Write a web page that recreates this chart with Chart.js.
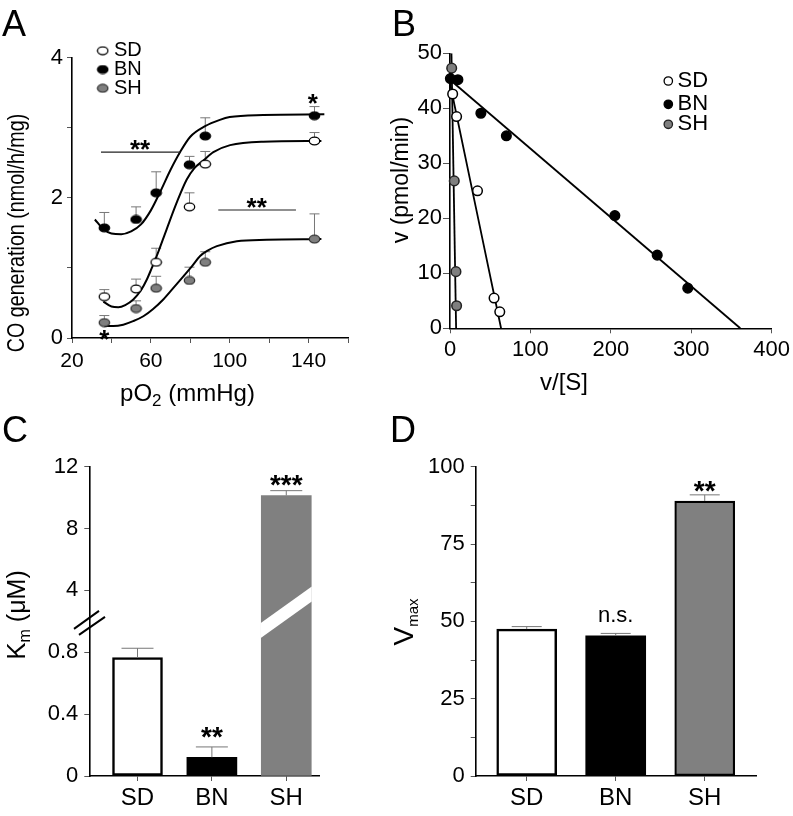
<!DOCTYPE html>
<html>
<head>
<meta charset="utf-8">
<title>CO generation and HO kinetics</title>
<script src="https://cdn.jsdelivr.net/npm/chart.js@4.4.1/dist/chart.umd.min.js"></script>
<style>
  html, body { margin: 0; padding: 0; background: #fff; }
  #fig { position: relative; width: 793px; height: 816px; overflow: hidden; font-family: 'Liberation Sans', Arial, sans-serif; }
  #fig canvas { position: absolute; left: 0; top: 0; }
  .tag { position: absolute; font-size: 36px; line-height: 36px; color: #000; }
</style>
</head>
<body>
<div id="fig">
  <canvas id="chartA" width="793" height="816"></canvas>
  <canvas id="chartB" width="793" height="816"></canvas>
  <canvas id="chartC" width="793" height="816"></canvas>
  <canvas id="chartD" width="793" height="816"></canvas>
  <div class="tag" style="left:2px;top:6px">A</div>
  <div class="tag" style="left:392px;top:6px">B</div>
  <div class="tag" style="left:2px;top:412px">C</div>
  <div class="tag" style="left:390px;top:412px">D</div>
</div>
<script>
const FONT = "'Liberation Sans', Arial, sans-serif";
Chart.defaults.font.family = FONT;
Chart.defaults.color = '#000';
Chart.defaults.animation = false;
Chart.defaults.plugins.legend.display = false;
Chart.defaults.plugins.tooltip.enabled = false;

const strains = ['SD', 'BN', 'SH'];

// A: CO generation vs pO2
const po2 = [36.4, 52.5, 62.7, 79.6, 87.6, 143];
const coSD = [0.59, 0.70, 1.08, 1.87, 2.48, 2.81];
const coBN = [1.57, 1.69, 2.07, 2.47, 2.88, 3.17];
const coSH = [0.22, 0.42, 0.71, 0.82, 1.08, 1.41];
const errSD = [0.10, 0.14, 0.20, 0.20, 0.18, 0.12];
const errBN = [0.22, 0.18, 0.30, 0.12, 0.26, 0.13];
const errSH = [0.10, 0.11, 0.17, 0.19, 0.15, 0.36];
// fitted curves
const fitSDx = [35.9, 40, 43.5, 47, 51.1, 55, 57.9, 60.5, 63, 68, 73.1, 78.2, 82, 86.6, 91.7, 100.2, 117, 146.5];
const fitSDy = [0.52, 0.45, 0.44, 0.47, 0.55, 0.68, 0.83, 1.0, 1.17, 1.55, 1.93, 2.26, 2.42, 2.53, 2.65, 2.75, 2.80, 2.81];
const fitBNx = [31.6, 36, 40, 45, 50, 55, 60, 65, 70, 75, 80, 87.5, 95, 100, 117, 148];
const fitBNy = [1.69, 1.55, 1.49, 1.48, 1.52, 1.62, 1.82, 2.10, 2.40, 2.66, 2.87, 3.02, 3.11, 3.15, 3.18, 3.19];
const fitSHx = [36.4, 41, 46, 51, 56.2, 61, 66.3, 71, 76.5, 81, 85, 89, 93.5, 103.6, 118.8, 146.5];
const fitSHy = [0.17, 0.17, 0.19, 0.24, 0.31, 0.41, 0.55, 0.70, 0.88, 1.03, 1.17, 1.25, 1.31, 1.38, 1.40, 1.41];
// significance bars [x1, x2, y] and marks [x, y, text]
const sigA = [[34.7, 74.8, 2.65], [94.2, 133.6, 1.825]];
const marksA = [[54.5, 2.79, '**'], [113.7, 1.965, '**'], [142.1, 3.445, '*'], [36.4, 0.076, '*']];

// B: Eadie-Hofstee plot
const vsSD = [3.3, 8.2, 34.2, 54.8, 61.9];
const vSD = [42.6, 38.5, 25.0, 5.5, 3.0];
const vsBN = [0.5, 9.8, 38.4, 70.1, 205, 257.7, 295.7];
const vBN = [45.4, 45.2, 39.1, 35.0, 20.5, 13.3, 7.3];
const vsSH = [2.1, 5.3, 7.4, 8.2];
const vSH = [47.3, 26.8, 10.3, 4.1];
const lineSDx = [0, 63.5], lineSDy = [44.5, 0];
const lineBNx = [0, 361], lineBNy = [45.2, 0];
const lineSHx = [1.8, 7.6], lineSHy = [50, 0];

// C: Km (broken axis)
const kmVal = [0.766, 0.121, 10.14];
const kmErr = [0.06, 0.067, 0.31];
const kmTicks = [0, 0.4, 0.8, 4, 8, 12];
const kmMarks = [[1, 0.298, '**'], [2, 11.29, '***']];

// D: Vmax
const vmaxVal = [47.5, 45.3, 88.9];
const vmaxErr = [0.8, 0.8, 2.0];
const vmaxMarks = [[1, 51.7, 'n.s.'], [2, 94.7, '**']];

// broken axis: 0-0.8 on the first two steps, 4-12 above the break
function kmPos(v) { return v < 2 ? v / 0.4 : 2 + v / 4; }

function ellipseMarker(fill, stroke) {
  const c = document.createElement('canvas');
  c.width = 13; c.height = 10;
  const g = c.getContext('2d');
  g.beginPath();
  g.ellipse(6.5, 5, 5.2, 3.8, 0, 0, Math.PI * 2);
  g.fillStyle = fill; g.fill();
  g.lineWidth = 1.3; g.strokeStyle = stroke; g.stroke();
  return c;
}
const mkSD = ellipseMarker('#fff', '#000');
const mkBN = ellipseMarker('#000', '#000');
const mkSH = ellipseMarker('#7f7f7f', '#333');

function axis(min, max, step, size, tickLen, pad, label) {
  return {
    type: 'linear', min: min, max: max, offset: false,
    ticks: { stepSize: step, font: { size: size }, padding: pad, color: '#000', autoSkip: false, maxRotation: 0, callback: label },
    grid: { drawOnChartArea: false, drawTicks: true, tickLength: tickLen, color: '#555', tickWidth: 1, offset: false },
    border: { display: true, color: '#000', width: 1.6 }
  };
}

function rich(ctx, parts, x, y, rot, sx) {
  ctx.save();
  ctx.translate(x, y);
  ctx.rotate(rot || 0);
  ctx.scale(sx || 1, 1);
  ctx.fillStyle = '#000';
  ctx.textAlign = 'left';
  ctx.textBaseline = 'alphabetic';
  let w = 0;
  parts.forEach(p => { ctx.font = p[1] + 'px ' + FONT; w += ctx.measureText(p[0]).width; });
  let cx = -w / 2;
  parts.forEach(p => {
    ctx.font = p[1] + 'px ' + FONT;
    ctx.fillText(p[0], cx, p[2] || 0);
    cx += ctx.measureText(p[0]).width;
  });
  ctx.restore();
}

function mark(ctx, txt, px, py, size) {
  ctx.save();
  ctx.fillStyle = '#000';
  const star = txt.indexOf('*') >= 0;
  ctx.font = (star ? 'bold ' : '') + size + 'px ' + FONT;
  ctx.textAlign = 'center';
  ctx.textBaseline = 'alphabetic';
  ctx.fillText(txt, px, py + (star ? 0.59 : 0.26) * size);
  ctx.restore();
}

function errBar(ctx, px, y0, y1, capW) {
  ctx.save();
  ctx.strokeStyle = '#777';
  ctx.lineWidth = 1;
  ctx.beginPath();
  ctx.moveTo(px, y0); ctx.lineTo(px, y1);
  ctx.moveTo(px - capW / 2, y1); ctx.lineTo(px + capW / 2, y1);
  ctx.stroke();
  ctx.restore();
}

function pts(xs, ys, style) {
  return { data: xs.map((x, i) => ({ x: x, y: ys[i] })), pointStyle: style, pointRadius: 5, showLine: false, clip: false };
}
function curve(xs, ys, w) {
  return { data: xs.map((x, i) => ({ x: x, y: ys[i] })), showLine: true, pointRadius: 0, borderColor: '#000', borderWidth: w, cubicInterpolationMode: 'monotone' };
}
function dots(xs, ys, fill, stroke) {
  return { data: xs.map((x, i) => ({ x: x, y: ys[i] })), pointRadius: 4.8, pointBackgroundColor: fill, pointBorderColor: stroke, pointBorderWidth: 1.5, showLine: false, clip: false };
}

// ---------- A ----------
const panelA = {
  id: 'panelA',
  beforeDatasetsDraw(chart) {
    const { ctx, scales: { x, y } } = chart;
    [[coSD, errSD], [coBN, errBN], [coSH, errSH]].forEach(([v, e]) => {
      v.forEach((val, i) => errBar(ctx, x.getPixelForValue(po2[i]), y.getPixelForValue(val), y.getPixelForValue(val + e[i]), 10));
    });
  },
  afterDraw(chart) {
    const { ctx, scales: { x, y } } = chart;
    ctx.save();
    ctx.strokeStyle = '#222';
    ctx.lineWidth = 1.2;
    sigA.forEach(s => {
      ctx.beginPath();
      ctx.moveTo(x.getPixelForValue(s[0]), y.getPixelForValue(s[2]));
      ctx.lineTo(x.getPixelForValue(s[1]), y.getPixelForValue(s[2]));
      ctx.stroke();
    });
    ctx.restore();
    marksA.forEach(m => mark(ctx, m[2], x.getPixelForValue(m[0]), y.getPixelForValue(m[1]), 26));
    // legend
    [mkSD, mkBN, mkSH].forEach((mk, i) => {
      const ly = 50.7 + i * 18.8;
      ctx.drawImage(mk, 102.7 - mk.width / 2, ly - mk.height / 2);
      ctx.font = '20px ' + FONT;
      ctx.fillStyle = '#000';
      ctx.textBaseline = 'middle';
      ctx.textAlign = 'left';
      ctx.fillText(strains[i], 114, ly);
    });
    rich(ctx, [['CO generation (nmol/h/mg)', 24]], 24, 233, -Math.PI / 2, 0.82);
    rich(ctx, [['pO', 24], ['2', 17, 5], [' (mmHg)', 24]], 187.5, 400.5);
  }
};

new Chart(document.getElementById('chartA'), {
  type: 'scatter',
  data: {
    datasets: [
      pts(po2, coSD, mkSD), pts(po2, coBN, mkBN), pts(po2, coSH, mkSH),
      curve(fitSDx, fitSDy, 2), curve(fitBNx, fitBNy, 2), curve(fitSHx, fitSHy, 2)
    ]
  },
  options: {
    responsive: false,
    layout: { padding: { left: 12, top: 57.5, right: 445, bottom: 428 } },
    scales: {
      x: Object.assign(axis(20, 160, 20, 21, 5, 6, v => ((v - 20) % 40 === 0 ? v : '')), { afterFit: s => { s.height = 50; } }),
      y: Object.assign(axis(0, 4, 1, 22, 5, 4, v => (v % 2 === 0 ? v : '')), { afterFit: s => { s.width = 60; } })
    }
  },
  plugins: [panelA]
});

// ---------- B ----------
const panelB = {
  id: 'panelB',
  afterDraw(chart) {
    const { ctx } = chart;
    const looks = [['#fff', '#000'], ['#000', '#000'], ['#7f7f7f', '#222']];
    looks.forEach((c, i) => {
      const ly = [81, 104.3, 124.3][i];
      ctx.save();
      ctx.beginPath();
      ctx.arc(668.3, ly, 4.2, 0, Math.PI * 2);
      ctx.fillStyle = c[0]; ctx.fill();
      ctx.lineWidth = 1.3; ctx.strokeStyle = c[1]; ctx.stroke();
      ctx.font = '22px ' + FONT;
      ctx.fillStyle = '#000';
      ctx.textBaseline = 'middle';
      ctx.textAlign = 'left';
      ctx.fillText(strains[i], 677.5, ly);
      ctx.restore();
    });
    rich(ctx, [['v (pmol/min)', 23]], 408, 180, -Math.PI / 2);
    rich(ctx, [['v/[S]', 24]], 564, 390);
  }
};

new Chart(document.getElementById('chartB'), {
  type: 'scatter',
  data: {
    datasets: [
      dots(vsSD, vSD, '#fff', '#000'), dots(vsBN, vBN, '#000', '#000'), dots(vsSH, vSH, '#7f7f7f', '#222'),
      curve(lineSDx, lineSDy, 1.8), curve(lineBNx, lineBNy, 1.8), curve(lineSHx, lineSHy, 1.8)
    ]
  },
  options: {
    responsive: false,
    layout: { padding: { left: 390, top: 53.3, right: 19.7, bottom: 437.7 } },
    scales: {
      x: Object.assign(axis(0, 400, 100, 22, 5, 3), { afterFit: s => { s.height = 50; } }),
      y: Object.assign(axis(0, 50, 10, 22, 7, 1), { afterFit: s => { s.width = 60; } })
    }
  },
  plugins: [panelB]
});

// ---------- C ----------
const panelC = {
  id: 'panelC',
  afterDatasetsDraw(chart) {
    const { ctx, scales: { x, y } } = chart;
    // white slash through the SH bar (axis break)
    const bar = chart.getDatasetMeta(0).data[2];
    const xl = bar.x - bar.width / 2 - 0.5, xr = bar.x + bar.width / 2 + 0.5;
    const cy = y.getPixelForValue(2.646);
    ctx.save();
    ctx.fillStyle = '#fff';
    ctx.beginPath();
    ctx.moveTo(xl, cy + 18.3 - 7.5);
    ctx.lineTo(xr, cy - 18.3 - 7.5);
    ctx.lineTo(xr, cy - 18.3 + 7.5);
    ctx.lineTo(xl, cy + 18.3 + 7.5);
    ctx.closePath();
    ctx.fill();
    ctx.restore();
    kmVal.forEach((v, i) => errBar(ctx, x.getPixelForValue(i), y.getPixelForValue(kmPos(v)), y.getPixelForValue(kmPos(v + kmErr[i])), 32));
  },
  afterDraw(chart) {
    const { ctx, chartArea, scales: { x, y } } = chart;
    // "//" mark on the value axis
    const ax = chartArea.left, by = y.getPixelForValue(2.476);
    ctx.save();
    ctx.strokeStyle = '#000';
    ctx.lineWidth = 2;
    ctx.beginPath();
    ctx.moveTo(ax - 15.3, by + 6); ctx.lineTo(ax + 9.7, by - 12);
    ctx.moveTo(ax - 10.3, by + 12); ctx.lineTo(ax + 15.7, by - 6);
    ctx.stroke();
    ctx.restore();
    kmMarks.forEach(m => mark(ctx, m[2], x.getPixelForValue(m[0]), y.getPixelForValue(kmPos(m[1])), 28));
    rich(ctx, [['K', 26], ['m', 16, 5], [' (\u03bcM)', 25]], 25, 615, -Math.PI / 2);
  }
};

new Chart(document.getElementById('chartC'), {
  type: 'bar',
  data: {
    datasets: [{
      data: strains.map((s, i) => ({ x: i, y: kmPos(kmVal[i]) })),
      backgroundColor: ['#fff', '#000', '#808080'],
      borderColor: ['#000', '#000', '#808080'],
      borderWidth: [2.5, 0, 0],
      borderSkipped: false,
      barThickness: 50
    }]
  },
  options: {
    responsive: false,
    layout: { padding: { left: 29.3, top: 466.7, right: 473.7, bottom: 0 } },
    scales: {
      x: Object.assign(axis(-0.648, 2.444, 1, 24, 5, 3, (v, i) => strains[i]), {
        afterBuildTicks: s => { s.ticks = strains.map((t, i) => ({ value: i })); },
        afterFit: s => { s.height = 40; }
      }),
      y: Object.assign(axis(0, 5, 1, 22, 5, 6, (v, i) => kmTicks[i]), {
        afterBuildTicks: s => { s.ticks = kmTicks.map((t, i) => ({ value: i })); },
        afterFit: s => { s.width = 60; }
      })
    }
  },
  plugins: [panelC]
});

// ---------- D ----------
const panelD = {
  id: 'panelD',
  afterDatasetsDraw(chart) {
    const { ctx, scales: { x, y } } = chart;
    vmaxVal.forEach((v, i) => errBar(ctx, x.getPixelForValue(i), y.getPixelForValue(v), y.getPixelForValue(v + vmaxErr[i]), 30));
  },
  afterDraw(chart) {
    const { ctx, scales: { x, y } } = chart;
    vmaxMarks.forEach(m => mark(ctx, m[2], x.getPixelForValue(m[0]), y.getPixelForValue(m[1]), m[2] === 'n.s.' ? 22 : 28));
    rich(ctx, [['V', 28], ['max', 15, 5]], 413, 622, -Math.PI / 2);
  }
};

new Chart(document.getElementById('chartD'), {
  type: 'bar',
  data: {
    datasets: [{
      data: strains.map((s, i) => ({ x: i, y: vmaxVal[i] })),
      backgroundColor: ['#fff', '#000', '#808080'],
      borderColor: ['#000', '#000', '#000'],
      borderWidth: [2.5, 0, 2.2],
      borderSkipped: false,
      barThickness: 60
    }]
  },
  options: {
    responsive: false,
    layout: { padding: { left: 415.7, top: 466.7, right: 37, bottom: 0 } },
    scales: {
      x: Object.assign(axis(-0.573, 2.576, 1, 24, 5, 3, (v, i) => strains[i]), {
        afterBuildTicks: s => { s.ticks = strains.map((t, i) => ({ value: i })); },
        afterFit: s => { s.height = 40; }
      }),
      y: Object.assign(axis(0, 100, 12.5, 22, 5, 6, v => (v % 25 === 0 ? v : '')), { afterFit: s => { s.width = 60; } })
    }
  },
  plugins: [panelD]
});
</script>
</body>
</html>
